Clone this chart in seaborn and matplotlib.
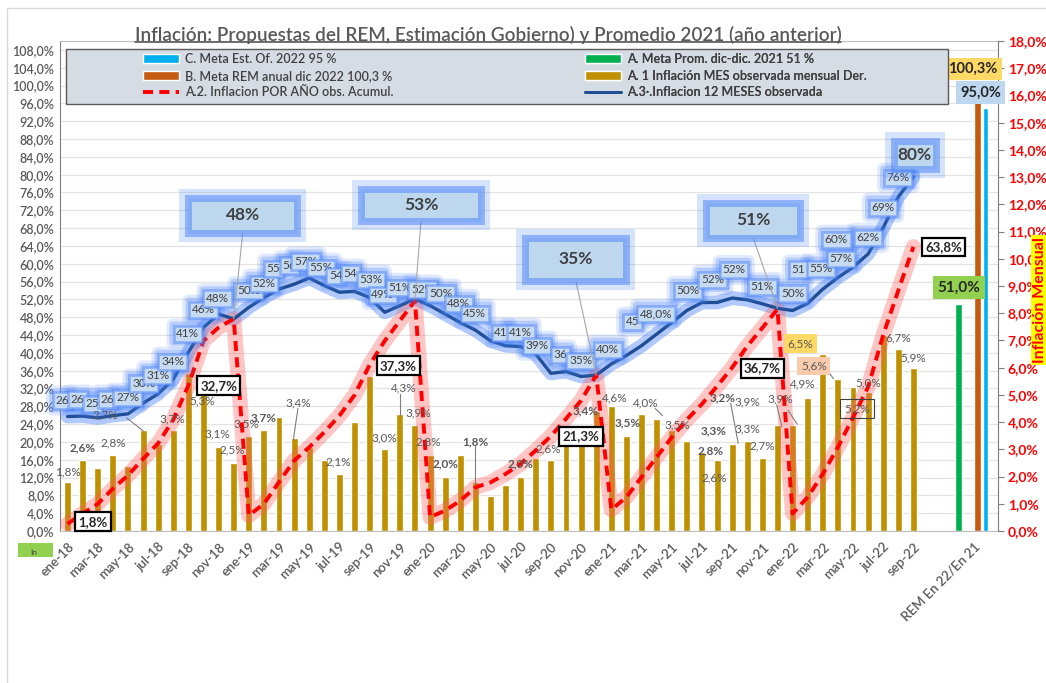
import matplotlib
matplotlib.use('Agg')
import matplotlib.pyplot as plt
import seaborn as sns
import pandas as pd
from matplotlib.patches import Rectangle, Patch, FancyBboxPatch
from matplotlib.lines import Line2D
from matplotlib.transforms import IdentityTransform

sns.set_style('white')
plt.rcParams['font.family'] = ['Lato', 'DejaVu Sans']

W, H = 1046, 683

# ---------------- data ----------------
MONTHS = ['ene', 'feb', 'mar', 'abr', 'may', 'jun', 'jul', 'ago', 'sep', 'oct', 'nov', 'dic']
YEARS = ['18', '19', '20', '21', '22']
month_labels = [f'{m}-{y}' for y in YEARS for m in MONTHS][:57]
REM_LABEL = 'REM En 22/En 21'

# A.1 monthly inflation (right axis, %)
monthly = [1.8, 2.6, 2.3, 2.8, 2.4, 3.7, 3.2, 3.7, 5.8, 5.3, 3.1, 2.5,
           3.5, 3.7, 4.2, 3.4, 3.1, 2.6, 2.1, 4.0, 5.7, 3.0, 4.3, 3.9,
           2.8, 2.0, 2.8, 1.8, 1.3, 1.7, 2.0, 2.7, 2.6, 3.4, 3.4, 4.4,
           4.6, 3.5, 4.3, 4.1, 3.7, 3.3, 2.9, 2.6, 3.2, 3.3, 2.7, 3.9,
           3.9, 4.9, 6.5, 5.6, 5.3, 5.1, 7.2, 6.7, 6.0]

# A.3 12-month inflation (left axis, %)
interanual = [25.7, 25.8, 25.4, 25.9, 26.3, 28.7, 30.8, 34.1, 40.1, 45.7, 48.7, 47.6,
              50.2, 52.4, 54.3, 55.4, 56.8, 55.1, 53.6, 53.8, 52.4, 49.1, 50.6, 52.1,
              50.6, 48.7, 46.8, 45.1, 42.7, 41.6, 41.4, 39.7, 35.4, 35.8, 34.7, 35.0,
              37.5, 39.4, 41.6, 44.2, 46.8, 49.5, 51.3, 51.3, 52.3, 51.9, 51.0, 50.0,
              49.5, 51.1, 54.3, 56.9, 59.2, 62.2, 68.1, 75.0, 79.5]

# A.2 accumulated inflation per year (left axis, %)
acumulado = [1.6, 3.9, 6.1, 9.5, 12.5, 16.2, 19.7, 25.0, 32.7, 42.7, 45.7, 47.6,
             3.5, 6.1, 11.0, 15.8, 18.8, 22.2, 25.9, 30.5, 37.3, 42.7, 47.2, 51.7,
             3.1, 4.6, 6.8, 9.8, 10.9, 12.8, 15.1, 18.1, 21.3, 25.2, 29.3, 35.0,
             4.8, 7.6, 12.1, 16.6, 21.0, 25.0, 28.5, 32.5, 36.7, 41.5, 45.6, 49.8,
             3.9, 7.6, 12.8, 18.8, 25.5, 32.3, 44.0, 54.0, 63.8]

meta_prom_2021 = 51.0
meta_rem_2022 = 100.3
meta_gob_2022 = 95.0

idx = list(range(len(month_labels)))
REM_POS = 60

GOLD = '#bf9000'
GREEN = '#00b050'
BROWN = '#c55a11'
CYAN = '#00b0f0'
NAVY = '#1f4e96'
RED = '#ff0000'
GRAY = '#595959'
DARK = '#404040'
GLOW = (0.28, 0.50, 0.97)

fig = plt.figure(figsize=(W / 100, H / 100), dpi=100)
fig.patch.set_facecolor('white')
ax = fig.add_axes([60 / W, 152 / H, 938 / W, 490 / H])
ax2 = ax.twinx()
ax3 = ax.twinx()

# ---------------- left axis ----------------
ax.set_ylim(0, 110)
lt = list(range(0, 109, 4))
ax.set_yticks(lt)
ax.set_yticklabels([f'{v},0%' for v in lt], fontsize=9, color=GRAY, fontweight=600)
ax.tick_params(axis='y', length=0, pad=4)
ax.grid(axis='y', color='#e3e3e3', linewidth=0.9)
ax.grid(axis='x', visible=False)
ax.spines['left'].set_color('#7f7f7f')
ax.spines['bottom'].set_color('#bfbfbf')
ax.spines['top'].set_color('#bfbfbf')
ax.spines['right'].set_visible(False)

# ---------------- monthly bars (right axis) ----------------
df_bars = pd.DataFrame({'idx': idx, 'val': monthly})
sns.barplot(data=df_bars, x='idx', y='val', native_scale=True, width=0.46,
            color=GOLD, saturation=1, errorbar=None, ax=ax2, zorder=2)
ax2.set_ylim(0, 18)
rt = list(range(0, 19))
ax2.set_yticks(rt)
ax2.set_yticklabels([f'{v},0%' for v in rt], fontsize=10, color=RED, fontweight='bold')
ax2.tick_params(axis='y', length=4, color='#7f7f7f', pad=3)
ax2.set_ylabel('')
ax2.set_xlabel('')
for s in ['left', 'top', 'bottom']:
    ax2.spines[s].set_visible(False)
ax2.spines['right'].set_color('#7f7f7f')

# ---------------- lines and end bars (top layer, left scale) ----------------
ax3.set_ylim(0, 110)
ax3.yaxis.set_visible(False)
for s in ax3.spines.values():
    s.set_visible(False)

sns.lineplot(x=idx, y=interanual, ax=ax3, color=GLOW, linewidth=10, alpha=0.42, zorder=3)
sns.lineplot(x=idx, y=interanual, ax=ax3, color=NAVY, linewidth=2.4, zorder=4)
sns.lineplot(x=idx, y=acumulado, ax=ax3, color='#ff5c5c', linewidth=11, alpha=0.35, zorder=3)
sns.lineplot(x=idx, y=acumulado, ax=ax3, color=RED, linewidth=2.8, linestyle=(0, (2.6, 1.6)), zorder=5)

sns.barplot(x=[REM_POS - 1], y=[meta_prom_2021], native_scale=True, width=0.46, color=GREEN,
            saturation=1, errorbar=None, ax=ax3)
sns.barplot(x=[REM_POS + 0.25], y=[meta_rem_2022], native_scale=True, width=0.45, color=BROWN,
            saturation=1, errorbar=None, ax=ax3)
sns.barplot(x=[REM_POS + 0.8], y=[meta_gob_2022], native_scale=True, width=0.32, color=CYAN,
            saturation=1, errorbar=None, ax=ax3)
ax3.set_ylabel('')
ax3.set_xlabel('')
ax3.set_ylim(0, 110)

# ---------------- x axis ----------------
xt = list(range(0, 57, 2)) + [REM_POS]
xl = [month_labels[i] for i in range(0, 57, 2)] + [REM_LABEL]
ax.set_xlim(-0.5, 61.6)
ax.set_xticks(xt)
ax.set_xticklabels(xl, rotation=45, ha='right', rotation_mode='anchor', fontsize=9.5,
                   color=GRAY, fontweight=600)
ax.tick_params(axis='x', length=0, pad=7)

# ---------------- labels on the 12-month line ----------------
blue_labels = [('26', -0.33, 29.3), ('26', 0.66, 29.5), ('25', 1.66, 28.6), ('26', 2.65, 29.5),
               ('27%', 3.97, 29.9), ('30%', 5.03, 33.1), ('31%', 5.96, 34.9), ('34%', 6.95, 38.0),
               ('41%', 7.95, 44.3), ('46%', 9.0, 49.7), ('48%', 9.93, 52.2), ('50%', 11.99, 53.9),
               ('52%', 12.98, 55.5), ('55', 13.64, 58.9), ('56', 14.7, 59.6), ('57%', 15.76, 60.5),
               ('55%', 16.8, 59.1), ('54', 17.75, 57.3), ('54', 18.74, 57.8), ('53%', 20.07, 56.4),
               ('49%', 20.86, 53.0), ('51%', 21.99, 54.6), ('52%', 23.5, 54.2), ('50%', 24.7, 53.3),
               ('48%', 25.9, 51.0), ('45%', 26.95, 48.8), ('41', 28.7, 44.5), ('41%', 30.0, 44.5),
               ('39%', 31.06, 41.6), ('36', 32.65, 39.6), ('35%', 33.97, 38.2), ('40%', 35.76, 40.7),
               ('45', 37.4, 47.0), ('48,0%', 38.94, 48.8), ('50%', 41.06, 53.9), ('52%', 42.7, 56.4),
               ('52%', 44.1, 58.6), ('51%', 46.0, 54.8), ('50%', 48.0, 53.3), ('51', 48.4, 58.7),
               ('55%', 49.9, 58.9), ('60%', 50.9, 65.4), ('57%', 51.2, 61.1), ('62%', 53.0, 65.8),
               ('69%', 54.0, 72.6), ('76%', 55.0, 79.3)]
blue_texts = []
for t, x, y in blue_labels:
    blue_texts.append(ax3.text(x, y, t, ha='center', va='center', fontsize=8.5, color=DARK, zorder=6,
                               bbox=dict(boxstyle='square,pad=0.22', facecolor='#c6dbf2',
                                         edgecolor=GLOW + (0.45,), linewidth=2)))

# big callouts (text, x0, x1, y0, y1, target index)
callouts = [('48%', 8.0, 15.2, 67.0, 74.8, 11), ('53%', 19.4, 27.4, 69.7, 76.8, 23),
            ('35%', 30.3, 37.0, 56.2, 65.8, 35), ('51%', 42.3, 48.5, 65.8, 73.7, 47),
            ('80%', 54.7, 57.5, 81.3, 87.6, None)]
for t, x0, x1, y0, y1, tgt in callouts:
    if tgt is not None:
        ax3.plot([(x0 + x1) / 2, tgt], [y0, interanual[tgt]], color='#a6a6a6', lw=0.8, zorder=6.5)
    ax3.add_patch(Rectangle((x0, y0), x1 - x0, y1 - y0, facecolor='none',
                            edgecolor=GLOW + (0.22,), linewidth=13, zorder=6.8))
    ax3.add_patch(Rectangle((x0, y0), x1 - x0, y1 - y0, facecolor='#bdd7ee',
                            edgecolor=GLOW + (0.5,), linewidth=5, zorder=7))
    ax3.text((x0 + x1) / 2, (y0 + y1) / 2, t, ha='center', va='center', fontsize=12.5,
             fontweight='bold', color=DARK, zorder=7.5)

# ---------------- bar value labels ----------------
bar_labels = [('1,8%', 0, 13.3, False), ('2,6%', 0.99, 18.7, True), ('2,7%', 2.5, 26.1, False),
              ('2,8%', 3.05, 19.8, False), ('3,7%', 6.95, 25.2, False), ('5,3%', 8.94, 29.3, False),
              ('3,1%', 9.93, 21.9, False), ('2,5%', 10.93, 18.1, False), ('3,5%', 11.85, 24.1, False),
              ('3,7%', 12.98, 25.5, True), ('3,4%', 15.3, 28.8, False), ('2,1%', 17.9, 15.4, False),
              ('3,0%', 21.0, 21.0, False), ('4,3%', 22.25, 32.2, False), ('3,9%', 23.2, 26.6, False),
              ('2,8%', 23.9, 19.9, False), ('2,0%', 25.0, 15.1, True), ('1,8%', 27.0, 20.1, True),
              ('2,0%', 30.0, 15.1, True), ('2,6%', 31.8, 18.5, False), ('3,4%', 34.3, 27.0, True),
              ('4,6%', 36.2, 29.9, False), ('3,5%', 37.1, 24.3, True), ('4,0%', 38.3, 28.8, False),
              ('3,5%', 40.4, 23.9, False), ('3,3%', 42.8, 22.5, True), ('2,8%', 42.6, 18.1, True),
              ('2,6%', 42.8, 12.0, False), ('3,2%', 43.4, 29.9, True), ('3,9%', 45.0, 29.0, False),
              ('3,3%', 45.0, 23.0, False), ('2,7%', 46.0, 19.2, False), ('3,9%', 47.2, 29.7, False),
              ('4,9%', 48.7, 33.1, False), ('5,0%', 53.0, 33.3, False), ('6,7%', 55.0, 43.4, False),
              ('5,9%', 56.0, 38.9, False)]
for t, x, y, b in bar_labels:
    ax3.text(x, y, t, ha='center', va='center', fontsize=8.5, color=GRAY,
             fontweight='bold' if b else 'normal', zorder=6)

leaders = [((3.9, 25.4), (5.0, 22.5)), ((15.25, 27.5), (14.95, 20.5)), ((22.0, 30.8), (22.0, 26.0)),
           ((27.0, 19.0), (27.0, 10.6)), ((38.9, 27.5), (39.4, 25.9)), ((43.9, 28.7), (44.4, 19.7)),
           ((46.95, 28.3), (47.3, 23.4)), ((47.7, 27.1), (48.3, 24.0)), ((50.1, 37.1), (50.7, 34.2))]
for (xa, ya), (xb, yb) in leaders:
    ax3.plot([xa, xb], [ya, yb], color='#7f7f7f', lw=0.8, zorder=6)

# highlighted bar labels
ax3.text(48.5, 42.1, '6,5%', ha='center', va='center', fontsize=8.5, color=GRAY, zorder=6,
         bbox=dict(boxstyle='square,pad=0.3', facecolor='#ffd966', edgecolor='none'))
ax3.text(49.4, 37.1, '5,6%', ha='center', va='center', fontsize=8.5, color=GRAY, zorder=6,
         bbox=dict(boxstyle='square,pad=0.3', facecolor='#f8cbad', edgecolor='none'))
ax3.text(52.25, 27.5, '5,2%', ha='center', va='center', fontsize=8.5, color=GRAY, zorder=6,
         bbox=dict(boxstyle='square,pad=0.35', facecolor='none', edgecolor='#404040', linewidth=0.8))

# boxed accumulated labels
boxed = [('1,8%', 1.66, 2.1), ('32,7%', 10.0, 32.6), ('37,3%', 21.9, 37.1),
         ('21,3%', 34.0, 21.2), ('36,7%', 46.0, 36.5), ('63,8%', 58.0, 63.8)]
for t, x, y in boxed:
    ax3.text(x, y, t, ha='center', va='center', fontsize=9.5, fontweight='bold', color='#262626',
             zorder=8, bbox=dict(boxstyle='square,pad=0.25', facecolor='white',
                                 edgecolor='black', linewidth=1.6))

# goal labels
ax3.text(59.95, 103.7, '100,3%', ha='center', va='center', fontsize=10.5, fontweight='bold',
         color='#262626', zorder=8, bbox=dict(boxstyle='square,pad=0.3', facecolor='#ffd966', edgecolor='none'))
ax3.text(60.45, 98.4, '95,0%', ha='center', va='center', fontsize=10.5, fontweight='bold',
         color='#262626', zorder=8, bbox=dict(boxstyle='square,pad=0.3', facecolor='#bdd7ee', edgecolor='none'))
ax3.text(59.0, 54.6, '51,0%', ha='center', va='center', fontsize=11, fontweight='bold',
         color='#262626', zorder=8, bbox=dict(boxstyle='square,pad=0.3', facecolor='#92d050', edgecolor='none'))

# ---------------- legend ----------------
ax3.add_patch(Rectangle(((66 - 60) / 938, 1 - (104 - 41) / 490), (948 - 66) / 938, (104 - 49) / 490,
                        transform=ax3.transAxes, facecolor='#d6dce4', edgecolor='#595959',
                        linewidth=1, zorder=9, clip_on=False))
h1 = [Patch(facecolor=CYAN), Patch(facecolor=BROWN),
      Line2D([0], [0], color=RED, lw=2.8, linestyle=(0, (2.6, 1.6)))]
l1 = ['C. Meta Est. Of. 2022 95 %', 'B. Meta REM anual dic 2022 100,3 %', 'A.2. Inflacion POR AÑO obs. Acumul.']
h2 = [Patch(facecolor=GREEN), Patch(facecolor=GOLD), Line2D([0], [0], color=NAVY, lw=2)]
l2 = ['A. Meta Prom. dic-dic. 2021 51 %', 'A. 1 Inflación MES observada mensual Der.',
      'A.3·.Inflacion 12 MESES observada']
for hh, ll, xpix in [(h1, l1, 143), (h2, l2, 585)]:
    lg = ax3.legend(hh, ll, loc='upper left', bbox_to_anchor=(xpix / W, 1 - 53 / H),
                    bbox_transform=fig.transFigure, frameon=False,
                    prop={'size': 9, 'weight': 600}, handlelength=2.9,
                    handleheight=0.8, handletextpad=0.45, labelspacing=0.38, borderpad=0, borderaxespad=0)
    for t in lg.get_texts():
        t.set_color(DARK)
    lg.set_zorder(10)
    ax3.add_artist(lg)

# ---------------- figure decorations ----------------
fig.patches.append(Rectangle((7 / W, -0.1), 1.2, 1 - 8 / H + 0.1, transform=fig.transFigure,
                             fill=False, edgecolor='#d9d9d9', linewidth=1))
fig.patches.append(Rectangle((18 / W, 1 - 557 / H), 35 / W, 14 / H, transform=fig.transFigure,
                             facecolor='#92d050', edgecolor='none'))
fig.text(30 / W, 1 - 556 / H, 'In', fontsize=6, color=DARK, va='bottom')

fig.text(1040 / W, 1 - 300 / H, 'Inflación Mensual', rotation=90, ha='center', va='center',
         fontsize=11.5, fontweight='bold', color=RED,
         bbox=dict(boxstyle='square,pad=0.15', facecolor='#ffff00', edgecolor='none'))

title = fig.text(488 / W, 1 - 35 / H,
                 'Inflación: Propuestas del REM, Estimación Gobierno) y Promedio 2021 (año anterior)',
                 ha='center', va='center', fontsize=13, color=GRAY, fontweight=600)
fig.canvas.draw()
r = fig.canvas.get_renderer()
bb = title.get_window_extent(r)
title.set_fontsize(13 * 698 / bb.width)
fig.canvas.draw()
bb = title.get_window_extent(r)
fig.add_artist(Line2D([bb.x0 / W, bb.x1 / W], [(bb.y0 + 2) / H, (bb.y0 + 2) / H],
                      transform=fig.transFigure, color=GRAY, linewidth=1.2))

# soft blue glow behind the 12-month labels (pixel-space halo around each label box)
for t in blue_texts:
    e = t.get_bbox_patch().get_window_extent(r)
    for grow, a in [(7, 0.16), (4, 0.28)]:
        ax3.add_patch(FancyBboxPatch((e.x0 - grow, e.y0 - grow), e.width + 2 * grow, e.height + 2 * grow,
                                     boxstyle=f'round,pad=0,rounding_size={grow}',
                                     transform=IdentityTransform(), facecolor=GLOW + (a,),
                                     edgecolor='none', zorder=5.5, clip_on=False))

fig.savefig('out.png', dpi=100)
